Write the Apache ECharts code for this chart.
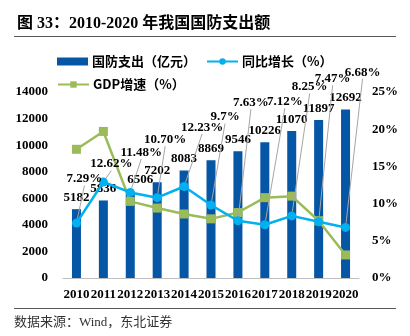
<!DOCTYPE html>
<html>
<head>
<meta charset="utf-8">
<script src="https://cdn.jsdelivr.net/npm/echarts@6/dist/echarts.min.js"></script>
<style>
html,body{margin:0;padding:0;background:#fff;}
#chart{width:410px;height:336px;}
</style>
</head>
<body>
<div id="chart"></div>
<script>
// ---- data ----
const years = ['2010','2011','2012','2013','2014','2015','2016','2017','2018','2019','2020'];
const defense = [5182, 5836, 6506, 7202, 8083, 8869, 9546, 10226, 11070, 11897, 12692];
const yoy = [7.38, 12.9, 11.5, 10.8, 12.3, 9.8, 7.7, 7.15, 8.35, 7.55, 6.8];
const yoyLabels = ['7.29%', '12.62%', '11.48%', '10.70%', '12.23%', '9.7%', '7.63%', '7.12%', '8.25%', '7.47%', '6.68%'];
const gdp = [17.3, 19.7, 10.3, 9.4, 8.6, 7.95, 8.8, 10.8, 11.0, 7.7, 3.1];
const leftTicks = {min: 0, max: 14000, interval: 2000};
const rightTicks = {min: 0, max: 25, interval: 5};

// label placement (pixel offsets of the moved growth labels)
const yoyLabelOffsets = [[8,-44],[8,-18],[11,-40],[8,-58],[18,-59],[14,-88],[13,-118],[20,-123],[18,-129],[14,-143],[17,-155]];
const barLabelDx = [0,0,10,0,0,0,0,0,0,0,0];

const serif = '"Liberation Serif","Times New Roman",serif';
const cjk = '"Liberation Serif","Noto Sans CJK SC",serif';

const chart = echarts.init(document.getElementById('chart'), null, {renderer: 'canvas'});
chart.setOption({
  animation: false,
  backgroundColor: '#fff',
  grid: {left: 63, right: 51, top: 92, bottom: 58, containLabel: false},
  graphic: [
    {type: 'text', left: 17, top: 16, style: {text: '图 33：2010-2020 年我国国防支出额', font: 'bold 16px ' + cjk, fill: '#000'}},
    {type: 'line', shape: {x1: 14, y1: 36.5, x2: 396, y2: 36.5}, style: {stroke: '#595959', lineWidth: 1}},
    {type: 'line', shape: {x1: 14, y1: 308.5, x2: 396, y2: 308.5}, style: {stroke: '#595959', lineWidth: 1}},
    {type: 'text', left: 14, top: 316, style: {text: '数据来源：Wind，东北证券', font: '13px ' + cjk, fill: '#333'}}
  ],
  legend: [
    {left: 52, top: 50, itemWidth: 31, itemHeight: 8, itemGap: 10,
     data: [{name: '国防支出（亿元）', icon: 'rect'}, '同比增长（%）'],
     textStyle: {fontFamily: '"Noto Sans CJK SC"', fontWeight: 'bold', fontSize: 13, color: '#000', padding: [0,0,0,-1]}},
    {left: 52, top: 73, itemWidth: 31, itemHeight: 8, data: ['GDP增速（%）'],
     textStyle: {fontFamily: '"Noto Sans CJK SC"', fontWeight: 'bold', fontSize: 13, color: '#000', padding: [0,0,0,-1]}}
  ],
  xAxis: {
    type: 'category', data: years,
    axisLine: {lineStyle: {color: '#bfbfbf', width: 1}},
    axisTick: {show: false},
    axisLabel: {fontFamily: serif, fontWeight: 'bold', fontSize: 13, color: '#000', margin: 10, interval: 0}
  },
  yAxis: [
    {type: 'value', min: leftTicks.min, max: leftTicks.max, interval: leftTicks.interval,
     axisLine: {show: false}, axisTick: {show: false}, splitLine: {show: false},
     axisLabel: {fontFamily: serif, fontWeight: 'bold', fontSize: 13, color: '#000', margin: 15,
       formatter: function (v) { return String(v); }}},
    {type: 'value', min: rightTicks.min, max: rightTicks.max, interval: rightTicks.interval,
     axisLine: {show: false}, axisTick: {show: false}, splitLine: {show: false},
     axisLabel: {fontFamily: serif, fontWeight: 'bold', fontSize: 13, color: '#000', margin: 13, formatter: '{value}%'}}
  ],
  series: [
    {name: '国防支出（亿元）', type: 'bar', data: defense, barWidth: 9,
     itemStyle: {color: '#0656a6'},
     label: {show: true, position: 'top', distance: 5, fontFamily: serif, fontWeight: 'bold', fontSize: 13, color: '#000'},
     labelLayout: function (p) { return {dx: barLabelDx[p.dataIndex]}; },
     z: 2},
    {name: 'GDP增速（%）', type: 'line', yAxisIndex: 1, data: gdp,
     symbol: 'rect', symbolSize: 9, lineStyle: {color: '#9bbb59', width: 2.5},
     itemStyle: {color: '#9bbb59'}, z: 3},
    {name: '同比增长（%）', type: 'line', yAxisIndex: 1, data: yoy,
     symbol: 'circle', symbolSize: 9, lineStyle: {color: '#00b0f0', width: 2.5},
     itemStyle: {color: '#00b0f0'},
     label: {show: true, position: 'inside', fontFamily: serif, fontWeight: 'bold', fontSize: 13, color: '#000',
       formatter: function (p) { return yoyLabels[p.dataIndex]; }},
     labelLine: {show: true, lineStyle: {color: '#a6a6a6', width: 1}},
     labelLayout: function (p) { const o = yoyLabelOffsets[p.dataIndex]; return {dx: o[0], dy: o[1]}; },
     z: 4}
  ]
});
</script>
</body>
</html>
